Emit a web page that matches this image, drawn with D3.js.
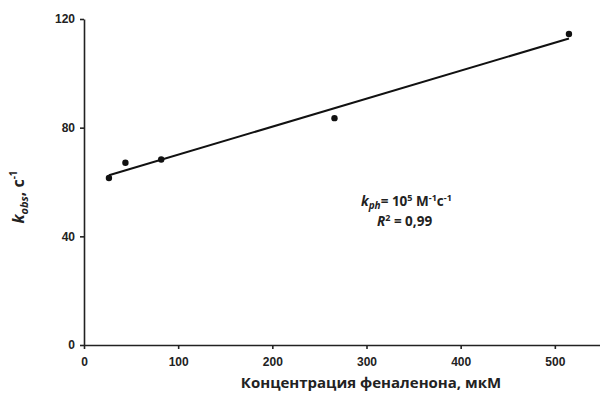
<!DOCTYPE html>
<html>
<head>
<meta charset="utf-8">
<script src="https://cdn.jsdelivr.net/npm/d3@7"></script>
<style>
    body { margin: 0; background: #fff; }
    svg { display: block; font-family: "Open Sans", "Noto Sans", sans-serif; }
    .axis path, .axis line { stroke: #222; stroke-width: 1.6; }
    .axis text { font-size: 12px; font-weight: 700; fill: #222; }
</style>
</head>
<body>
<div id="chart"></div>
<script>
// концентрация феналенона, мкМ
const concentration = [26.5, 44, 82, 266, 515];
// k_obs, c^-1
const kObs = [61.5, 67.1, 68.3, 83.5, 114.5];
const xTicks = [0, 100, 200, 300, 400, 500];
const yTicks = [0, 40, 80, 120];

const width = 600, height = 396;
const margin = { left: 84, top: 19, bottom: 51 };

const svg = d3.select("#chart").append("svg")
    .attr("width", width)
    .attr("height", height);

const x = d3.scaleLinear().domain([0, 600]).range([margin.left, margin.left + 565]);
const y = d3.scaleLinear().domain([0, 120]).range([height - margin.bottom, margin.top]);

// линейная аппроксимация (МНК)
const mx = d3.mean(concentration), my = d3.mean(kObs);
const sxy = d3.sum(concentration, (c, i) => (c - mx) * (kObs[i] - my));
const sxx = d3.sum(concentration, c => (c - mx) * (c - mx));
const slope = sxy / sxx;
const intercept = my - slope * mx;
const fitX = d3.extent(concentration);

svg.append("g")
    .attr("class", "axis x-axis")
    .attr("transform", `translate(0,${y(0)})`)
    .call(d3.axisBottom(x).tickValues(xTicks).tickSize(4).tickSizeOuter(0).tickPadding(8));

svg.append("g")
    .attr("class", "axis y-axis")
    .attr("transform", `translate(${x(0)},0)`)
    .call(d3.axisLeft(y).tickValues(yTicks).tickSize(4).tickSizeOuter(0).tickPadding(5));

svg.append("path")
    .datum(fitX)
    .attr("d", d3.line().x(d => x(d)).y(d => y(intercept + slope * d)))
    .style("fill", "none")
    .style("stroke", "#111")
    .style("stroke-width", 2);

svg.selectAll(".point")
    .data(concentration)
    .enter().append("circle")
    .attr("class", "point")
    .attr("r", 3.2)
    .attr("cx", d => x(d))
    .attr("cy", (d, i) => y(kObs[i]))
    .style("fill", "#111");

// подписи осей
svg.append("text")
    .attr("x", 371)
    .attr("y", 388)
    .attr("text-anchor", "middle")
    .style("font-size", "15px")
    .style("font-weight", 700)
    .style("fill", "#222")
    .text("Концентрация феналенона, мкМ");

const yl = svg.append("text")
    .attr("transform", "translate(24,197) rotate(-90)")
    .attr("text-anchor", "middle")
    .style("font-size", "16px")
    .style("font-weight", 700)
    .style("fill", "#222");
yl.append("tspan").style("font-style", "italic").text("k");
yl.append("tspan").style("font-style", "italic").style("font-size", "11px").attr("dy", 4).text("obs");
yl.append("tspan").attr("dy", -4).text(", c");
yl.append("tspan").style("font-size", "10px").attr("dy", -7).text("-1");

// аннотация
const a1 = svg.append("text")
    .attr("x", 361)
    .attr("y", 206)
    .style("font-size", "13.5px")
    .style("font-weight", 700)
    .style("fill", "#222");
a1.append("tspan").style("font-style", "italic").text("k");
a1.append("tspan").style("font-style", "italic").style("font-size", "10px").attr("dy", 3).text("ph");
a1.append("tspan").attr("dy", -3).text("= 10");
a1.append("tspan").style("font-size", "9px").attr("dy", -5).text("5");
a1.append("tspan").attr("dy", 5).text(" M");
a1.append("tspan").style("font-size", "9px").attr("dy", -5).text("-1");
a1.append("tspan").attr("dy", 5).text("c");
a1.append("tspan").style("font-size", "9px").attr("dy", -5).text("-1");

const a2 = svg.append("text")
    .attr("x", 377)
    .attr("y", 226)
    .style("font-size", "13.5px")
    .style("font-weight", 700)
    .style("fill", "#222");
a2.append("tspan").style("font-style", "italic").text("R");
a2.append("tspan").style("font-size", "9px").attr("dy", -5).text("2");
a2.append("tspan").attr("dy", 5).text(" = 0,99");
</script>
</body>
</html>
